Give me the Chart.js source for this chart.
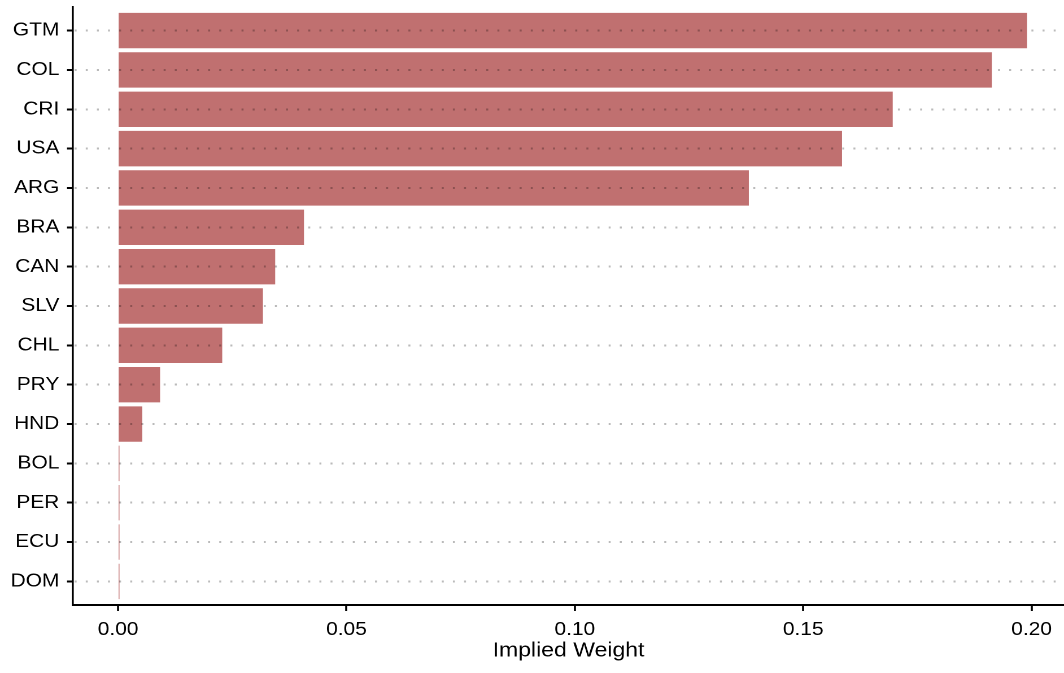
<!DOCTYPE html>
<html>
<head>
<meta charset="utf-8">
<script src="https://cdn.jsdelivr.net/npm/chart.js@4"></script>
<style>
  body { margin: 0; background: #fff; overflow: hidden; }
  /* the reference is a horizontally stretched export, so draw narrow and widen */
  #weights { display: block; transform: scaleX(1.1295); transform-origin: 0 0; }
</style>
</head>
<body>
<canvas id="weights" width="942" height="673"></canvas>
<script>
/*
Data
*/
const countries = ["GTM", "COL", "CRI", "USA", "ARG", "BRA", "CAN", "SLV", "CHL", "PRY", "HND", "BOL", "PER", "ECU", "DOM"];
const weights = [0.1990, 0.1913, 0.1696, 0.1585, 0.1381, 0.0407, 0.0344, 0.0317, 0.0228, 0.0092, 0.0053, 0.0003, 0.0003, 0.0003, 0.0003];
const xTicks = [0, 0.05, 0.10, 0.15, 0.20];

const barColor = "rgb(192, 112, 112)";
const family = "'Liberation Sans', Arial, sans-serif";

const ctx = document.getElementById("weights").getContext("2d");
const chart = new Chart(ctx, {
    type: "bar",
    data: {
        datasets: [
            {
                label: "Implied Weight",
                data: weights.map((w, i) => ({ x: w, y: i })),
                backgroundColor: barColor,
                borderWidth: 0,
                categoryPercentage: 0.9,
                barPercentage: 1.0,
            },
        ]
    },
    options: {
        indexAxis: "y",
        responsive: false,
        devicePixelRatio: 2,
        animation: false,
        layout: { padding: { top: 7, right: 0, bottom: 0, left: 0 } },
        plugins: {
            legend: { display: false },
            tooltip: { enabled: false },
        },
        scales: {
            x: {
                type: "linear",
                min: -0.00987,
                max: 0.2071,
                afterBuildTicks: (scale) => {
                    scale.ticks = xTicks.map(v => ({ value: v }));
                },
                afterFit: (scale) => {
                    scale.height = 68;
                    scale.paddingLeft = 0;
                    scale.paddingRight = 0;
                },
                grid: {
                    drawOnChartArea: false,
                    tickLength: 6,
                    tickWidth: 1.8,
                    tickColor: "#000",
                },
                border: { color: "#000", width: 2 },
                ticks: {
                    color: "#000",
                    font: { family: family, size: 18.5 },
                    padding: 8,
                    maxRotation: 0,
                    callback: (v) => v.toFixed(2),
                },
                title: {
                    display: true,
                    text: "Implied Weight",
                    color: "#000",
                    font: { family: family, size: 20.4 },
                    padding: { top: 0, bottom: 10 },
                },
            },
            y: {
                type: "linear",
                reverse: true,
                offset: false,
                min: -0.6,
                max: 14.6,
                afterBuildTicks: (scale) => {
                    scale.ticks = countries.map((c, i) => ({ value: i }));
                },
                afterFit: (scale) => {
                    scale.width = 64.63;
                    scale.paddingTop = 0;
                    scale.paddingBottom = 0;
                },
                grid: {
                    z: 1,
                    offset: false,
                    color: "rgba(0, 0, 0, 0.27)",
                    lineWidth: 2,
                    tickLength: 5.3,
                    tickWidth: 2,
                    tickColor: "#000",
                    tickBorderDash: [],
                },
                border: {
                    z: 1,
                    color: "#000",
                    width: 1.8,
                    dash: [1.77, 8.08],
                    dashOffset: 9.09,
                },
                ticks: {
                    color: "#000",
                    font: { family: family, size: 18.5 },
                    padding: 6.8,
                    autoSkip: false,
                    callback: (v) => countries[v],
                },
            },
        },
    },
});
</script>
</body>
</html>
